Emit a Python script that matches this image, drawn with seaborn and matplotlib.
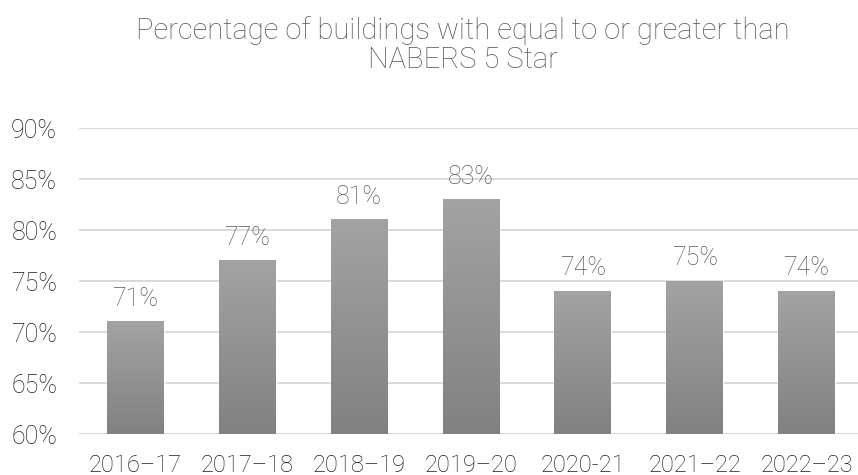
import numpy as np
import pandas as pd
import matplotlib
matplotlib.use("Agg")
import matplotlib.pyplot as plt
import seaborn as sns
from matplotlib.colors import LinearSegmentedColormap

categories = ["2016–17", "2017–18", "2018–19", "2019–20", "2020-21", "2021–22", "2022–23"]
values = [71, 77, 81, 83, 74, 75, 74]
yticks = [60, 65, 70, 75, 80, 85, 90]
title = "Percentage of buildings with equal to or greater than\nNABERS 5 Star"

sns.set_theme(style="white")
plt.rcParams['font.family'] = ['Roboto', 'DejaVu Sans']
plt.rcParams['font.weight'] = 'light'

df = pd.DataFrame({"year": categories, "pct": values})

fig = plt.figure(figsize=(8.58, 4.75), dpi=100)
ax = fig.add_axes([79.4/858, 1-434.3/475, (858-79.4)/858, (434.3-128.3)/475])

sns.barplot(data=df, x="year", y="pct", color="#939393", width=0.507, ax=ax,
            saturation=1, zorder=3)

ymin, ymax = 60, 90

# gradient fill on each bar
grad = np.linspace(0, 1, 256).reshape(-1, 1)
cmap = LinearSegmentedColormap.from_list("g", ["#818181", "#a3a3a3"])
for p in ax.patches:
    x0 = p.get_x()
    w, h = p.get_width(), p.get_height()
    top = p.get_y() + h
    ax.imshow(grad, extent=[x0, x0 + w, ymin, top], origin="lower",
              aspect="auto", cmap=cmap, zorder=4)

ax.set_ylim(ymin, ymax)
ax.set_xlim(-0.5, 6.46)
ax.set_yticks(yticks)
ax.set_yticklabels([f"{t}%" for t in yticks])
ax.set_xlabel("")
ax.set_ylabel("")
ax.grid(axis="y", color="#d9d9d9", linewidth=1.4, zorder=0)
ax.set_axisbelow(True)
for s in ax.spines.values():
    s.set_visible(False)
ax.tick_params(axis="y", length=0, pad=16, labelsize=18, labelcolor="#1f1f1f")
ax.tick_params(axis="x", length=0, pad=14, labelsize=17, labelcolor="#1f1f1f")

for i, v in enumerate(values):
    ax.annotate(f"{v}%", (i, v), xytext=(0, 8), textcoords="offset points",
                ha="center", va="bottom", fontsize=18, color="#595959")

fig.text(0.539, 0.905, title, ha="center", va="center", fontsize=21,
         color="#595959", linespacing=1.07)

fig.savefig("out.png", dpi=100)
